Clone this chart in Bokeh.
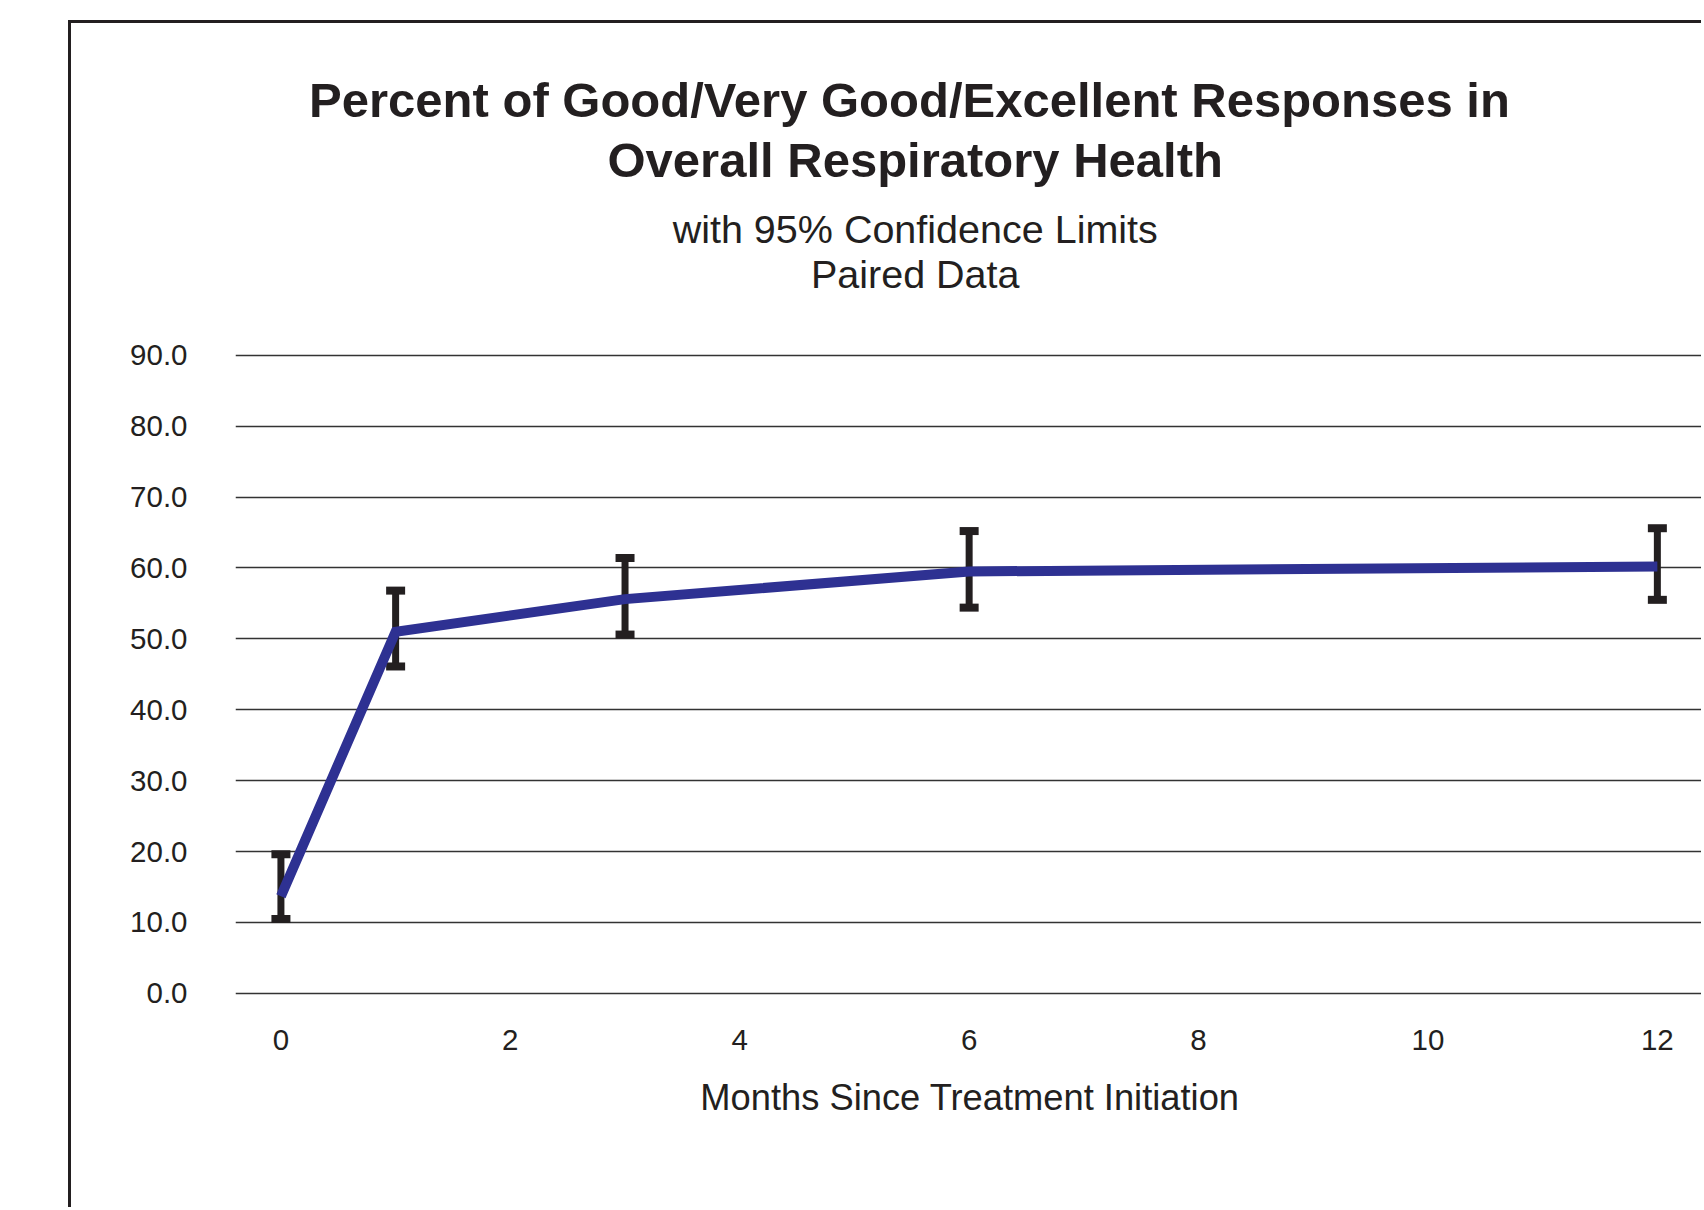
from bokeh.plotting import figure
from bokeh.models import (ColumnDataSource, Range1d, FixedTicker, PrintfTickFormatter,
                          Whisker, TeeHead, Label)
from bokeh.embed import file_html
from bokeh.resources import INLINE

# Percent of good/very good/excellent responses by month, with 95% confidence limits
months = [0, 1, 3, 6, 12]
pct = [13.7, 51.0, 55.6, 59.5, 60.2]
ci_lower = [10.5, 46.1, 50.6, 54.4, 55.5]
ci_upper = [19.6, 56.8, 61.4, 65.2, 65.6]

y_ticks = [0, 10, 20, 30, 40, 50, 60, 70, 80, 90]
x_ticks = [0, 2, 4, 6, 8, 10, 12]

title_lines = ["Percent of Good/Very Good/Excellent Responses in",
               "Overall Respiratory Health"]
subtitle_lines = ["with 95% Confidence Limits", "Paired Data"]
x_label = "Months Since Treatment Initiation"

INK = "#231F20"
BLUE = "#2E3192"
FONT = "Liberation Sans"

src = ColumnDataSource(dict(months=months, pct=pct, lower=ci_lower, upper=ci_upper))

# The plot area runs up to the top of the canvas so the heading sits above the
# 90.0 gridline; the page frame is a left/top rule on the figure element.
p = figure(width=1633, height=1187,
           x_range=Range1d(-0.396, 12.411), y_range=Range1d(-2.0, 136.79),
           output_backend="svg", toolbar_location=None,
           min_border_left=164, min_border_right=0,
           min_border_top=0, min_border_bottom=203,
           margin=(20, 0, 0, 68))
p.styles = {"border-left": f"3px solid {INK}", "border-top": f"3px solid {INK}"}
p.outline_line_color = None
p.background_fill_color = "white"
p.border_fill_color = "white"

# grid: horizontal lines only
p.xgrid.visible = False
p.ygrid.ticker = FixedTicker(ticks=y_ticks)
p.ygrid.grid_line_color = "#333333"
p.ygrid.grid_line_width = 1.5

# y axis
p.yaxis.ticker = FixedTicker(ticks=y_ticks)
p.yaxis.formatter = PrintfTickFormatter(format="%.1f")
p.yaxis.axis_line_color = None
p.yaxis.major_tick_line_color = None
p.yaxis.minor_tick_line_color = None
p.yaxis.major_label_standoff = 42
p.yaxis.major_label_text_font = FONT
p.yaxis.major_label_text_font_size = "29.5px"
p.yaxis.major_label_text_color = INK

# x axis
p.xaxis.ticker = FixedTicker(ticks=x_ticks)
p.xaxis.axis_line_color = None
p.xaxis.major_tick_line_color = None
p.xaxis.minor_tick_line_color = None
p.xaxis.major_label_standoff = 16
p.xaxis.major_label_text_font = FONT
p.xaxis.major_label_text_font_size = "29.5px"
p.xaxis.major_label_text_color = INK
p.xaxis.axis_label = x_label
p.xaxis.axis_label_text_font = FONT
p.xaxis.axis_label_text_font_size = "36.3px"
p.xaxis.axis_label_text_font_style = "normal"
p.xaxis.axis_label_text_color = INK
p.xaxis.axis_label_standoff = 24

# response line
p.line("months", "pct", source=src, line_width=10, line_color=BLUE, line_join="miter")

# confidence limits
whisker = Whisker(base="months", lower="lower", upper="upper", source=src,
                  dimension="height", line_color=INK, line_width=7,
                  upper_head=TeeHead(size=19, line_width=8, line_color=INK),
                  lower_head=TeeHead(size=19, line_width=8, line_color=INK))
p.add_layout(whisker)

# heading, anchored above the value axis
for txt, cx, by in zip(title_lines, [5.48, 5.53], [126.0, 117.5]):
    p.add_layout(Label(x=cx, y=by, text=txt,
                       text_align="center", text_baseline="alphabetic",
                       text_font=FONT, text_font_size="49px", text_font_style="bold",
                       text_color=INK))
for txt, cx, by in zip(subtitle_lines, [5.53, 5.53], [107.8, 101.5]):
    p.add_layout(Label(x=cx, y=by, text=txt,
                       text_align="center", text_baseline="alphabetic",
                       text_font=FONT, text_font_size="39.5px",
                       text_color=INK))

open("out.html", "w").write(file_html(p, INLINE))
